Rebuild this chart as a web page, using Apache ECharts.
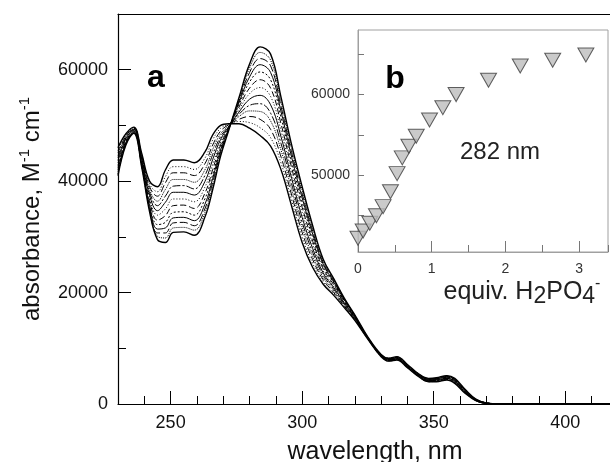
<!DOCTYPE html>
<html>
<head>
	<meta charset="utf-8">
	<title>titration spectra</title>
	<script src="https://cdn.jsdelivr.net/npm/echarts@6.0.0/dist/echarts.min.js"></script>
	<style>
		html, body {margin:0; padding:0; background:#fff;}
		#main {width:610px; height:462px;}
	</style>
</head>
<body>
	<div id="main"></div>

<script type="text/javascript">
	//wavelength, nm
	var wl = [230,233,236,239,242,245,248,251,255,259,263,266,269,272,276,280,284,288,292,296,300,304,308,312,316,320,325,330,333,336,340,344,348,351,355,358,362,366,370,375,417];

	//absorbance / 1000, one array per addition of H2PO4-
	var c0  = [46.0,48.5,49.7,45.0,40.0,39.0,42.0,43.8,43.8,43.3,45.2,48.3,50.0,50.3,50.3,49.5,48.2,46.3,42.0,35.5,29.0,24.5,21.5,19.5,17.3,15.0,11.6,8.5,7.7,7.9,6.5,5.0,4.0,4.0,4.3,3.7,1.9,0.6,0.1,0,0];
	var c1  = [45.5,48.3,49.6,44.8,39.5,38.1,40.8,42.6,42.6,42.1,44.1,47.4,49.5,50.2,50.7,50.5,49.6,47.8,43.2,36.5,29.9,25.2,21.9,19.8,17.5,15.1,11.6,8.5,7.7,7.9,6.5,5.0,4.0,4.1,4.4,3.8,2.0,0.6,0.1,0,0];
	var c2  = [45.1,48.1,49.5,44.6,39.0,37.3,39.7,41.5,41.5,41.0,43.1,46.5,49.0,50.1,51.1,51.6,51.1,49.3,44.3,37.5,30.8,25.9,22.3,20.0,17.6,15.2,11.7,8.6,7.8,8.0,6.6,5.1,4.1,4.1,4.4,3.8,2.0,0.6,0.1,0,0];
	var c3  = [44.6,48.0,49.4,44.3,38.5,36.4,38.5,40.3,40.3,39.8,42.0,45.7,48.5,49.9,51.6,52.6,52.5,50.8,45.5,38.5,31.7,26.5,22.7,20.3,17.8,15.3,11.7,8.6,7.8,8.0,6.6,5.1,4.1,4.2,4.5,3.9,2.1,0.7,0.1,0,0];
	var c4  = [44.2,47.8,49.3,44.1,38.0,35.6,37.3,39.1,39.2,38.6,41.0,44.8,48.0,49.8,52.0,53.6,53.9,52.2,46.7,39.5,32.6,27.2,23.1,20.6,17.9,15.4,11.7,8.6,7.9,8.1,6.7,5.2,4.2,4.2,4.6,4.0,2.1,0.7,0.1,0,0];
	var c5  = [43.7,47.6,49.2,43.9,37.5,34.7,36.2,38.0,38.0,37.5,39.9,43.9,47.5,49.7,52.4,54.7,55.4,53.7,47.9,40.5,33.5,27.9,23.5,20.9,18.1,15.5,11.8,8.7,7.9,8.1,6.7,5.2,4.2,4.3,4.6,4.1,2.2,0.7,0.1,0,0];
	var c6  = [43.3,47.4,49.1,43.7,37.0,33.9,35.0,36.8,36.8,36.3,38.9,43.0,47.0,49.6,52.8,55.7,56.8,55.2,49.0,41.4,34.4,28.6,23.9,21.1,18.2,15.5,11.8,8.7,7.9,8.2,6.8,5.2,4.3,4.3,4.7,4.1,2.2,0.7,0.2,0,0];
	var c7  = [42.8,47.2,49.0,43.4,36.5,33.0,33.8,35.6,35.7,35.1,37.8,42.1,46.5,49.5,53.3,56.7,58.2,56.7,50.2,42.4,35.3,29.2,24.3,21.4,18.4,15.6,11.8,8.7,8.0,8.2,6.8,5.3,4.3,4.4,4.8,4.2,2.3,0.8,0.2,0,0];
	var c8  = [42.4,47.1,48.9,43.2,36.0,32.2,32.6,34.4,34.5,33.9,36.8,41.2,46.0,49.4,53.7,57.8,59.6,58.2,51.4,43.4,36.2,29.9,24.7,21.7,18.5,15.7,11.9,8.8,8.0,8.3,6.9,5.3,4.4,4.5,4.8,4.3,2.4,0.8,0.2,0,0];
	var c9  = [42.0,46.9,48.8,43.0,35.6,31.4,31.6,33.4,33.5,32.9,35.8,40.5,45.6,49.3,54.1,58.7,60.9,59.5,52.4,44.3,37.0,30.5,25.1,21.9,18.7,15.8,11.9,8.8,8.1,8.3,6.9,5.4,4.4,4.5,4.9,4.4,2.4,0.8,0.2,0,0];
	var c10 = [41.6,46.8,48.7,42.8,35.2,30.7,30.7,32.5,32.6,32.0,35.0,39.8,45.2,49.2,54.4,59.5,62.0,60.7,53.3,45.1,37.7,31.0,25.4,22.1,18.8,15.9,11.9,8.8,8.1,8.4,7.0,5.4,4.5,4.6,5.0,4.4,2.5,0.8,0.2,0,0];
	var c11 = [41.3,46.6,48.7,42.7,34.9,30.1,29.8,31.6,31.7,31.2,34.3,39.1,44.9,49.1,54.7,60.3,63.1,61.7,54.2,45.8,38.4,31.5,25.7,22.3,18.9,15.9,12.0,8.9,8.2,8.4,7.0,5.5,4.5,4.6,5.0,4.5,2.5,0.9,0.2,0,0];
	var c12 = [41.0,46.5,48.6,42.5,34.5,29.5,29.0,30.8,30.9,30.3,33.5,38.5,44.5,49.0,55.0,61.0,64.1,62.8,55.0,46.5,39.0,32.0,26.0,22.5,19.0,16.0,12.0,8.9,8.2,8.5,7.1,5.5,4.6,4.7,5.1,4.6,2.6,0.9,0.2,0,0];

	//inset b: absorbance at 282 nm vs equivalents
	var equiv  = [0,0.07,0.16,0.25,0.34,0.44,0.53,0.60,0.69,0.79,0.97,1.15,1.33,1.77,2.20,2.64,3.09];
	var abs282 = [42200,43100,44060,45000,46120,47970,50210,52160,53590,54830,56860,58380,60000,61770,63540,64250,64910];

	var curves = [c0, c1, c2, c3, c4, c5, c6, c7, c8, c9, c10, c11, c12];
	var dashes = ['solid', [1,2], [7,3], 'dotted', [8,2,2,2], 'solid', [1,2], [6,3], [2,2], 'solid', [8,3], 'dotted', 'solid'];
	var widths = [1.4, 1, 1, 1, 1, 1, 1, 1, 1, 1, 1, 1, 1.4];

	var font = 'Arial, "Liberation Sans", sans-serif';

	var series = [];
	curves.forEach(function(c, k){
		series.push({
			type: 'line',
			xAxisIndex: 0,
			yAxisIndex: 0,
			smooth: 0.4,
			showSymbol: false,
			silent: true,
			lineStyle: {color: '#000', width: widths[k], type: dashes[k]},
			data: wl.map(function(w, i){ return [w, c[i] * 1000]; })
		});
	});
	series.push({
		type: 'scatter',
		xAxisIndex: 3,
		yAxisIndex: 2,
		symbol: 'triangle',
		symbolRotate: 180,
		symbolSize: [16, 14],
		itemStyle: {color: '#bdbdbd', borderColor: '#3a3a3a', borderWidth: 1},
		data: equiv.map(function(e, i){ return [e, abs282[i]]; })
	});

	var option = {
		animation: false,
		backgroundColor: '#fff',
		textStyle: {fontFamily: font},
		grid: [
			{left: 118, top: 14, right: 0, bottom: 58, outerBoundsMode: 'none'},
			{left: 358, top: 30, width: 250, height: 222, outerBoundsMode: 'none', show: true, borderColor: '#a0a0a0', borderWidth: 1}
		],
		xAxis: [
			{
				gridIndex: 0, type: 'value', position: 'bottom', min: 230, max: 417, interval: 10,
				axisLine: {lineStyle: {color: '#000', width: 1.2}},
				axisTick: {inside: true, length: 8, lineStyle: {color: '#000'}},
				axisLabel: {
					margin: 10, fontSize: 18, color: '#111',
					formatter: function(v){ return v % 50 === 0 ? String(v) : ''; }
				},
				splitLine: {show: false},
				name: 'wavelength, nm', nameLocation: 'middle', nameGap: 36,
				nameTextStyle: {fontSize: 25, color: '#111', padding: [0, 0, 0, 22]}
			},
			{
				gridIndex: 0, type: 'value', position: 'bottom', min: 230, max: 417,
				axisLine: {show: false},
				axisTick: {inside: true, length: 13, customValues: [250, 300, 350, 400], lineStyle: {color: '#000'}},
				axisLabel: {show: false},
				splitLine: {show: false}
			},
			{
				gridIndex: 0, type: 'value', position: 'top', min: 230, max: 417,
				axisLine: {lineStyle: {color: '#000', width: 1.2}},
				axisTick: {show: false},
				axisLabel: {show: false},
				splitLine: {show: false}
			},
			{
				gridIndex: 1, type: 'value', position: 'bottom', min: 0, max: 3.39, interval: 0.5,
				axisLine: {lineStyle: {color: '#a0a0a0'}},
				axisTick: {inside: true, length: 7, lineStyle: {color: '#777'}},
				axisLabel: {
					margin: 10, fontSize: 14, color: '#333',
					formatter: function(v){ return v % 1 === 0 ? String(v) : ''; }
				},
				splitLine: {show: false}
			},
			{
				gridIndex: 1, type: 'value', position: 'bottom', min: 0, max: 3.39,
				axisLine: {show: false},
				axisTick: {inside: true, length: 11, customValues: [1, 2, 3], lineStyle: {color: '#777'}},
				axisLabel: {show: false},
				splitLine: {show: false}
			}
		],
		yAxis: [
			{
				gridIndex: 0, type: 'value', position: 'left', min: 0, max: 70000, interval: 10000,
				axisLine: {show: true, lineStyle: {color: '#000', width: 1.2}},
				axisTick: {show: true, inside: true, length: 8, lineStyle: {color: '#000'}},
				axisLabel: {
					margin: 10, fontSize: 18, color: '#111',
					formatter: function(v){ return v % 20000 === 0 ? String(v) : ''; }
				},
				splitLine: {show: false},
				name: 'absorbance, M{sup|-1} cm{sup|-1}', nameLocation: 'middle', nameGap: 71,
				nameTextStyle: {
					fontSize: 24, color: '#111', lineHeight: 30,
					rich: {sup: {fontSize: 15, verticalAlign: 'top', color: '#111'}}
				}
			},
			{
				gridIndex: 0, type: 'value', position: 'left', min: 0, max: 70000,
				axisLine: {show: false},
				axisTick: {show: true, inside: true, length: 13, customValues: [20000, 40000, 60000], lineStyle: {color: '#000'}},
				axisLabel: {show: false},
				splitLine: {show: false}
			},
			{
				gridIndex: 1, type: 'value', position: 'left', min: 40500, max: 68000,
				axisLine: {show: true, lineStyle: {color: '#a0a0a0'}},
				axisTick: {show: true, inside: true, length: 6, customValues: [45000, 50000, 55000, 60000, 65000], lineStyle: {color: '#777'}},
				axisLabel: {
					margin: 8, fontSize: 14, color: '#333', customValues: [50000, 60000],
					formatter: function(v){ return String(v); }
				},
				splitLine: {show: false}
			}
		],
		graphic: [
			{type: 'text', style: {text: 'a', x: 156, y: 78, align: 'center', verticalAlign: 'middle', font: 'bold 32px ' + font, fill: '#000'}},
			{type: 'text', style: {text: 'b', x: 395, y: 79, align: 'center', verticalAlign: 'middle', font: 'bold 32px ' + font, fill: '#000'}},
			{type: 'text', style: {text: '282 nm', x: 500, y: 152, align: 'center', verticalAlign: 'middle', font: '24px ' + font, fill: '#222'}},
			{
				type: 'text',
				style: {
					text: 'equiv. H{sub|2}PO{sub|4}{sup|-}', x: 522, y: 292, align: 'center', verticalAlign: 'middle',
					font: '25px ' + font, fill: '#222', lineHeight: 32,
					rich: {
						sub: {fontSize: 23, verticalAlign: 'bottom', fill: '#222', fontFamily: font},
						sup: {fontSize: 16, verticalAlign: 'top', fill: '#222', fontFamily: font}
					}
				}
			}
		],
		series: series
	};

	var myChart = echarts.init(document.getElementById('main'));
	myChart.setOption(option);
</script>
</body>
</html>
